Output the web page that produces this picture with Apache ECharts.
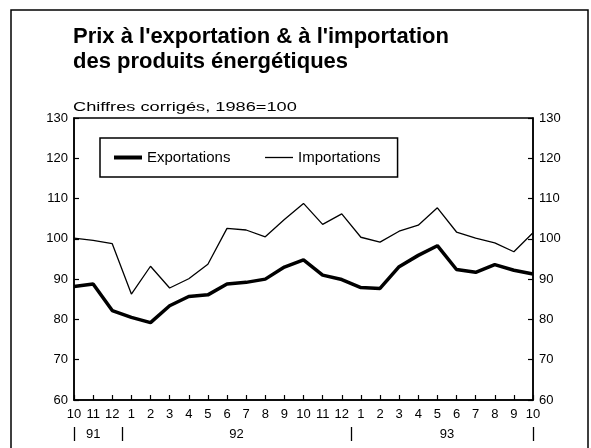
<!DOCTYPE html>
<html>
<head>
<meta charset="utf-8">
<script src="https://cdn.jsdelivr.net/npm/echarts@6/dist/echarts.min.js"></script>
<style>
  html, body { margin: 0; padding: 0; background: #fff; }
  #chart { width: 591px; height: 448px; }
</style>
</head>
<body>
<div id="chart"></div>
<script>
// months from 10/1991 to 10/1993
const months = ['10', '11', '12', '1', '2', '3', '4', '5', '6', '7', '8', '9', '10', '11', '12',
    '1', '2', '3', '4', '5', '6', '7', '8', '9', '10']
const exportations = [88.2, 88.8, 82.2, 80.5, 79.2, 83.4, 85.7, 86.1, 88.8, 89.2, 90.0, 93.0, 94.8,
    91.0, 89.9, 87.9, 87.7, 93.1, 95.9, 98.3, 92.4, 91.7, 93.6, 92.2, 91.3]
const importations = [100.2, 99.6, 98.8, 86.3, 93.2, 87.8, 90.1, 93.7, 102.6, 102.2, 100.5, 104.8, 108.8,
    103.6, 106.2, 100.4, 99.2, 101.9, 103.4, 107.7, 101.7, 100.2, 99.0, 96.8, 101.5]
const yearLabels = ['91', '92', '93']
const yearStart = [0, 3, 15]
const yearEnd = [2, 14, 24]
const yearMarks = [0, 2.5, 14.5, 24]

const font = 'Liberation Sans'
const chart = echarts.init(document.getElementById('chart'), null, {renderer: 'canvas'})

const yAxisBase = {
    type: 'value',
    min: 60,
    max: 130,
    interval: 10,
    axisLine: {show: true, lineStyle: {color: '#000', width: 1.5}},
    axisTick: {show: true, inside: true, length: 5, lineStyle: {color: '#000', width: 1.2}},
    splitLine: {show: false},
    axisLabel: {color: '#000', fontFamily: font, fontSize: 13, margin: 6}
}

chart.setOption({
    backgroundColor: '#fff',
    animation: false,
    title: {
        text: "Prix à l'exportation & à l'importation\ndes produits énergétiques",
        left: 73,
        top: 25,
        padding: 0,
        textStyle: {
            color: '#000',
            fontFamily: font,
            fontWeight: 'bold',
            fontSize: 22,
            lineHeight: 24.5
        }
    },
    legend: {
        left: 100,
        top: 138,
        padding: [12, 17, 12, 12],
        itemWidth: 28,
        itemHeight: 14,
        itemGap: 34,
        borderColor: '#000',
        borderWidth: 1.5,
        itemStyle: {opacity: 0, borderWidth: 0},
        textStyle: {color: '#000', fontFamily: font, fontSize: 15},
        data: [
            {name: 'Exportations', lineStyle: {color: '#000', width: 4}},
            {name: 'Importations', lineStyle: {color: '#000', width: 1.3}}
        ]
    },
    grid: {
        left: 74,
        right: 58,
        top: 118,
        bottom: 48,
        show: true,
        borderColor: '#000',
        borderWidth: 1.5,
        backgroundColor: 'transparent'
    },
    xAxis: {
        type: 'category',
        data: months,
        boundaryGap: false,
        axisLine: {show: true, lineStyle: {color: '#000', width: 1.5}},
        axisTick: {show: true, inside: true, length: 5, alignWithLabel: true, lineStyle: {color: '#000', width: 1.2}},
        axisLabel: {color: '#000', fontFamily: font, fontSize: 13, margin: 8, interval: 0},
        splitLine: {show: false}
    },
    yAxis: [
        Object.assign({}, yAxisBase, {position: 'left'}),
        Object.assign({}, yAxisBase, {position: 'right'})
    ],
    series: [
        {
            name: 'Exportations',
            type: 'line',
            data: exportations,
            symbol: 'none',
            lineStyle: {color: '#000', width: 3.5},
            itemStyle: {color: '#000'}
        },
        {
            name: 'Importations',
            type: 'line',
            data: importations,
            symbol: 'none',
            lineStyle: {color: '#000', width: 1.3},
            itemStyle: {color: '#000'}
        }
    ]
})

// year row under the month labels, placed from the category axis
function xAt(idx) {
    const a = chart.convertToPixel({xAxisIndex: 0}, 0)
    const b = chart.convertToPixel({xAxisIndex: 0}, 1)
    return a + (b - a) * idx
}

const graphics = []
yearLabels.forEach((label, i) => {
    graphics.push({
        type: 'text',
        x: xAt((yearStart[i] + yearEnd[i]) / 2),
        y: 434,
        style: {
            text: label,
            fill: '#000',
            font: '13px "' + font + '"',
            align: 'center',
            verticalAlign: 'middle'
        }
    })
})
yearMarks.forEach(idx => {
    const x = Math.round(xAt(idx)) + 0.5
    graphics.push({
        type: 'line',
        shape: {x1: x, y1: 427, x2: x, y2: 441},
        style: {stroke: '#000', lineWidth: 1.3}
    })
})
// subtitle, stretched to the wide lettering of the original
graphics.push({
    type: 'text',
    x: 73,
    y: 107,
    scaleX: 1.4,
    style: {
        text: 'Chiffres corrigés, 1986=100',
        fill: '#000',
        font: '13px "' + font + '"',
        verticalAlign: 'middle'
    }
})
// outer frame
graphics.push({
    type: 'rect',
    shape: {x: 11, y: 10, width: 577, height: 460},
    style: {fill: 'none', stroke: '#000', lineWidth: 1.5}
})

chart.setOption({graphic: graphics})
</script>
</body>
</html>
